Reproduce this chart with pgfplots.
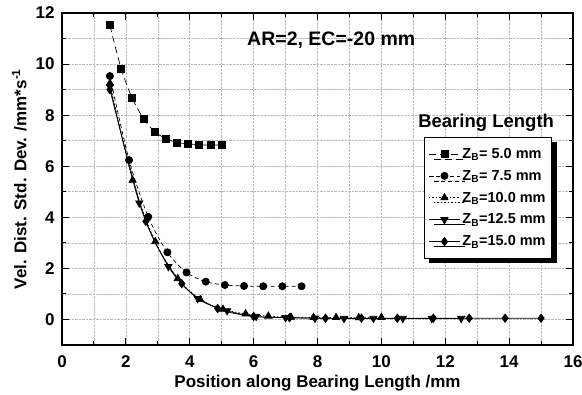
\documentclass[border=0pt]{standalone}
\usepackage{pgfplots}
\pgfplotsset{compat=1.18}
\usepackage{fontspec}
\setmainfont{Liberation Sans}
\usetikzlibrary{shadows}
\begin{document}
\begin{tikzpicture}
\begin{axis}[
  scale only axis, width=511pt, height=332pt,
  xmin=0, xmax=16, ymin=-1, ymax=12,
  xtick={0,2,...,16}, ytick={0,2,...,12},
  minor x tick num=1, minor y tick num=1,
  grid=both,
  major grid style={densely dotted, gray!55, line width=0.6pt},
  minor grid style={densely dotted, gray!55, line width=0.6pt},
  tick align=inside, major tick length=7pt, minor tick length=4pt,
  axis line style={line width=1.3pt},
  every tick/.style={black, line width=1pt},
  /pgf/number format/assume math mode=true,
  tick label style={font=\fontsize{17}{19}\selectfont\bfseries},
  xticklabel style={yshift=-7pt},
  yticklabel style={xshift=-4pt},
  label style={font=\fontsize{17}{20}\selectfont\bfseries},
  xlabel={Position along Bearing Length /mm},
  xlabel style={yshift=-1pt},
  ylabel={Vel. Dist. Std. Dev. /mm*s\textsuperscript{-1}},
  ylabel style={yshift=2pt},
  legend style={at={(rel axis cs:0.959,0.627)}, anchor=north east,
    draw=black, line width=0.8pt, fill=white,
    drop shadow={shadow xshift=5pt, shadow yshift=-5pt, fill=black, opacity=1},
    font=\fontsize{14.5}{16}\selectfont\bfseries, row sep=6.3pt, inner xsep=4pt, inner ysep=9pt},
  legend cell align=left,
  legend image code/.code={\draw[mark repeat=2,mark phase=2,line width=0.7pt] plot coordinates {(0cm,0cm)(0.55cm,0cm)(1.1cm,0cm)};},
]
\addplot[black, line width=0.7pt, dash pattern=on 7pt off 4pt, smooth, mark=square*, mark size=3.5pt, mark options={solid}]
coordinates {(1.5,11.52)(1.85,9.83)(2.2,8.66)(2.55,7.87)(2.9,7.35)(3.25,7.09)(3.6,6.93)(3.95,6.88)(4.3,6.84)(4.65,6.83)(5.0,6.83)};
\addlegendentry{Z\textsubscript{B}= 5.0 mm}
\addplot[black, line width=0.7pt, dash pattern=on 4pt off 3pt, smooth, mark=*, mark size=3.6pt, mark options={solid}]
coordinates {(1.5,9.53)(2.1,6.24)(2.7,4.02)(3.3,2.63)(3.9,1.84)(4.5,1.48)(5.1,1.35)(5.7,1.31)(6.3,1.30)(6.9,1.30)(7.5,1.30)};
\addlegendentry{Z\textsubscript{B}= 7.5 mm}
\addplot[black, line width=0.7pt, dash pattern=on 1.5pt off 2pt, smooth, mark=triangle*, mark size=4.2pt, mark options={solid}]
coordinates {(1.5,9.25)(2.21,5.45)(2.92,3.05)(3.625,1.6)(4.33,0.78)(5.04,0.40)(5.75,0.22)(6.46,0.13)(7.17,0.09)(7.875,0.08)(8.58,0.08)(9.29,0.07)(10.0,0.08)};
\addlegendentry{Z\textsubscript{B}=10.0 mm}
\addplot[black, line width=0.7pt, smooth, mark=triangle*, mark size=4.2pt, mark options={solid, rotate=180}]
coordinates {(1.5,9.12)(2.42,4.56)(3.33,2.07)(4.25,0.82)(5.17,0.34)(6.08,0.12)(7.0,0.07)(7.92,0.05)(8.83,0.04)(9.75,0.04)(10.67,0.04)(11.58,0.04)(12.5,0.04)};
\addlegendentry{Z\textsubscript{B}=12.5 mm}
\addplot[black, line width=0.7pt, smooth, mark=diamond*, mark size=4.2pt, mark options={solid}]
coordinates {(1.5,9.0)(2.625,3.84)(3.75,1.40)(4.875,0.43)(6.0,0.12)(7.125,0.07)(8.25,0.05)(9.375,0.05)(10.5,0.05)(11.625,0.05)(12.75,0.05)(13.875,0.05)(15.0,0.05)};
\addlegendentry{Z\textsubscript{B}=15.0 mm}
\node[font=\fontsize{18.5}{20}\selectfont\bfseries] at (rel axis cs:0.83,0.669) {Bearing Length};
\node[font=\fontsize{19.5}{21}\selectfont\bfseries] at (axis cs:8.43,10.94) {AR=2, EC=-20 mm};
\end{axis}
\pgfresetboundingbox
\path ([shift={(-62pt,-49pt)}]current axis.south west) rectangle ([shift={(9pt,13pt)}]current axis.north east);
\end{tikzpicture}
\end{document}
